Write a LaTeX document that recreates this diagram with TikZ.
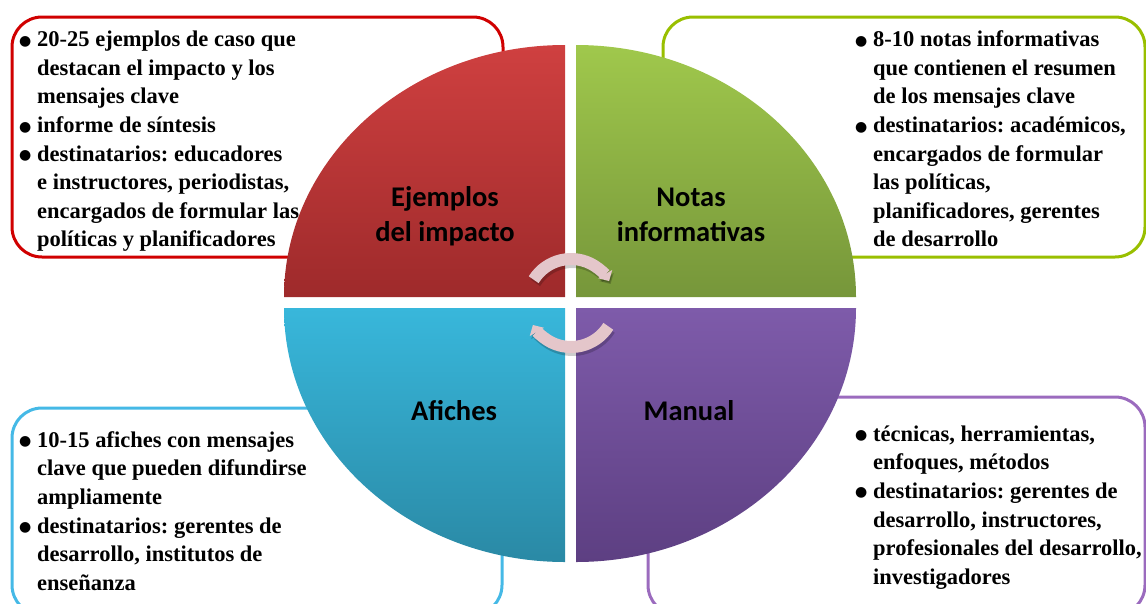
\documentclass[tikz,border=0pt]{standalone}
\usepackage{fontspec}
\setmainfont{Liberation Serif}
\newfontfamily\labfont{Carlito}
\newfontfamily\bulfont{DejaVu Sans}
\usetikzlibrary{arrows.meta}
\definecolor{boxred}{HTML}{D00000}
\definecolor{boxgreen}{HTML}{99BF00}
\definecolor{boxblue}{HTML}{45B9E6}
\definecolor{boxpurple}{HTML}{9B6BBE}
\definecolor{redtop}{HTML}{CF4040}
\definecolor{redbot}{HTML}{9E2A2B}
\definecolor{greentop}{HTML}{A0C84C}
\definecolor{greenbot}{HTML}{76963A}
\definecolor{bluetop}{HTML}{38B7DB}
\definecolor{bluebot}{HTML}{2A89A5}
\definecolor{purptop}{HTML}{7E5BAA}
\definecolor{purpbot}{HTML}{5D3F82}
\definecolor{arrowpink}{HTML}{E4C6CA}
\newcommand\bul{\makebox[18pt][l]{\raisebox{1.5pt}{\bulfont\fontsize{14}{14}\selectfont ●}}}
\newcommand\ind{\hspace*{18pt}}
\tikzset{
  infobox/.style={line width=3pt, rounded corners=30pt},
  bodytext/.style={anchor=north west, inner sep=0pt, align=left,
    font=\frenchspacing\bfseries\fontsize{22.5}{28.6}\selectfont},
  seclabel/.style={anchor=north, inner sep=0pt, align=center,
    font=\labfont\bfseries\fontsize{28.5}{35}\selectfont},
  cyc/.style={line width=12pt, draw=arrowpink, -{Triangle[width=16pt,length=8pt]}},
  cycshadow/.style={line width=12pt, draw=black, opacity=0.2, -{Triangle[width=16pt,length=8pt]}}
}
\begin{document}
\begin{tikzpicture}[x=1pt,y=-1pt]
\useasboundingbox (0,0) rectangle (1146,603);
\clip (0,0) rectangle (1146,603);
% boxes
\draw[infobox, draw=boxred] (12,17) rectangle (503,257);
\draw[infobox, draw=boxgreen] (663,17) rectangle (1145,257);
\draw[infobox, draw=boxblue] (12,408) rectangle (502,615);
\draw[infobox, draw=boxpurple] (648,397) rectangle (1145,615);
% sectors
\shade[top color=redtop, bottom color=redbot]
  (565,297) -- (284,297) arc[start angle=180, end angle=270, x radius=281, y radius=252] -- cycle;
\shade[top color=greentop, bottom color=greenbot]
  (576,297) -- (576,45) arc[start angle=270, end angle=360, x radius=280, y radius=252] -- cycle;
\shade[top color=bluetop, bottom color=bluebot]
  (565,308) -- (565,562) arc[start angle=90, end angle=180, x radius=281, y radius=254] -- cycle;
\shade[top color=purptop, bottom color=purpbot]
  (576,308) -- (856,308) arc[start angle=0, end angle=90, x radius=280, y radius=254] -- cycle;
% sector labels
\node[seclabel] (ejemplos) at (445,184) {\rule{0pt}{22pt}Ejemplos\\del impacto};
\node[seclabel] (notas) at (691,184) {\rule{0pt}{22pt}Notas\\informativas};
\node[seclabel] (afiches) at (454,398) {\rule{0pt}{22pt}Afiches};
\node[seclabel] (manual) at (689,398) {\rule{0pt}{22pt}Manual};
% cycle arrows
\coordinate (hub) at (571,303);
\coordinate (hubs) at (572.5,306);
\draw[cycshadow] (hubs) ++(212:44) arc[start angle=212, end angle=330, radius=44];
\draw[cycshadow] (hubs) ++(32:44) arc[start angle=32, end angle=150, radius=44];
\draw[cyc] (hub) ++(212:44) arc[start angle=212, end angle=330, radius=44];
\draw[cyc] (hub) ++(32:44) arc[start angle=32, end angle=150, radius=44];
% texts
\node[bodytext] (tred) at (19,26.5) {\rule{0pt}{20pt}\bul 20-25 ejemplos de caso que\\
\ind destacan el impacto y los\\
\ind mensajes clave\\
\bul informe de síntesis\\
\bul destinatarios: educadores\\
\ind e instructores, periodistas,\\
\ind encargados de formular las\\
\ind políticas y planificadores};
\node[bodytext] (tgreen) at (855,26.5) {\rule{0pt}{20pt}\bul 8-10 notas informativas\\
\ind que contienen el resumen\\
\ind de los mensajes clave\\
\bul destinatarios: académicos,\\
\ind encargados de formular\\
\ind las políticas,\\
\ind planificadores, gerentes\\
\ind de desarrollo};
\node[bodytext] (tblue) at (19,427) {\rule{0pt}{20pt}\bul 10-15 afiches con mensajes\\
\ind clave que pueden difundirse\\
\ind ampliamente\\
\bul destinatarios: gerentes de\\
\ind desarrollo, institutos de\\
\ind enseñanza};
\node[bodytext] (tpurple) at (855,421) {\rule{0pt}{20pt}\bul técnicas, herramientas,\\
\ind enfoques, métodos\\
\bul destinatarios: gerentes de\\
\ind desarrollo, instructores,\\
\ind profesionales del desarrollo,\\
\ind investigadores};
\end{tikzpicture}
\end{document}
